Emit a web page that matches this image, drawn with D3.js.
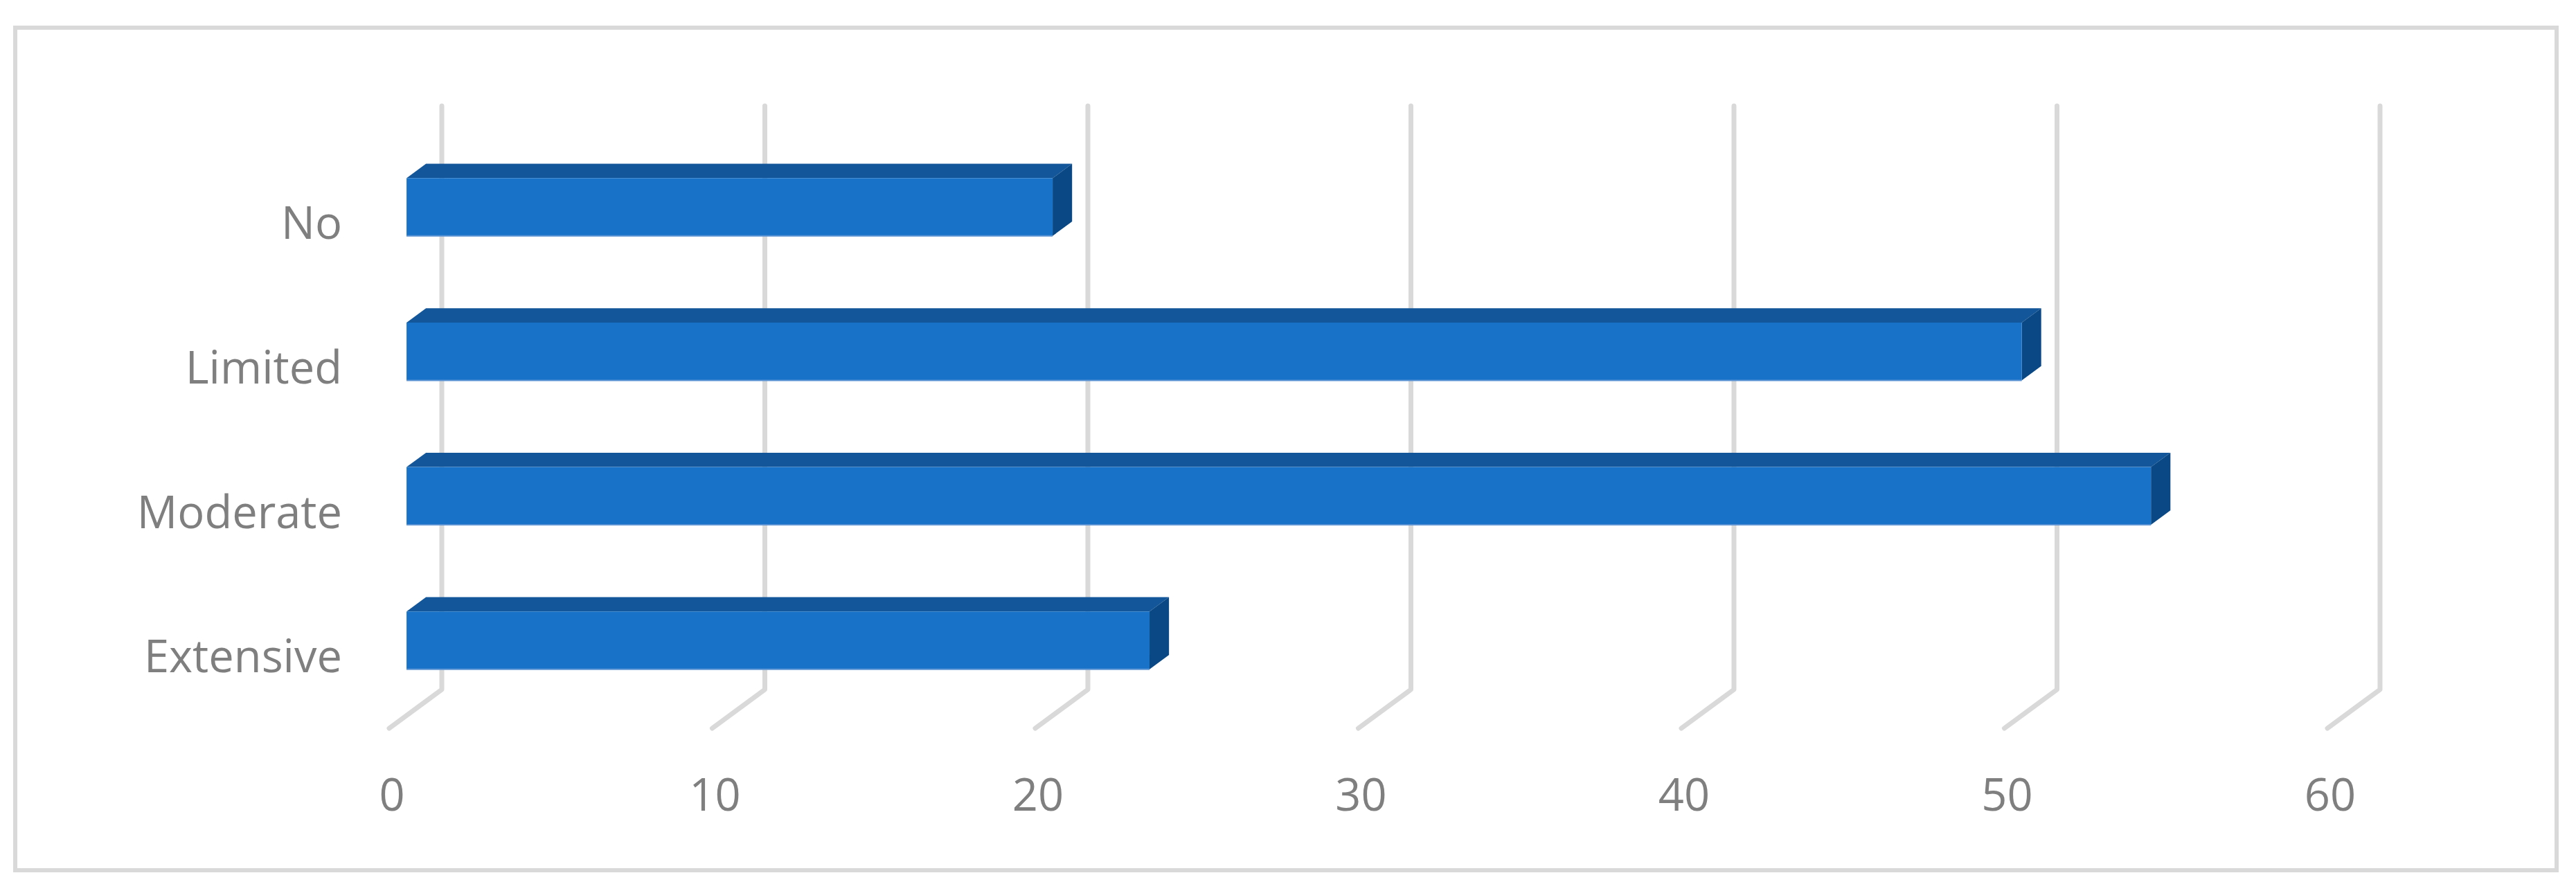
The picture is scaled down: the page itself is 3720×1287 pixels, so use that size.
<!DOCTYPE html>
<html>
<head>
<meta charset="utf-8">
<script src="https://cdn.jsdelivr.net/npm/d3@7"></script>
<style>
  html, body { margin: 0; padding: 0; background: #fff; }
  svg { display: block; }
</style>
</head>
<body>
<svg></svg>
<script>
// data
const categories = ['No', 'Limited', 'Moderate', 'Extensive'];
const values = [20, 50, 54, 23];
const ticks = [0, 10, 20, 30, 40, 50, 60];

const size = {w: 3720, h: 1287};
const svg = d3.select('svg')
    .attr('width', size.w)
    .attr('height', size.h);

// 3d look: offset of the back plane against the front plane
const depth = {dx: 76, dy: -56};
const barDepth = [0.33, 0.70];   // bar spans this part of the floor depth

// front plane scales
const x = d3.scaleLinear()
    .domain([0, 60])
    .range([562, 3361]);

const y = d3.scaleBand()
    .domain(categories)
    .range([209, 1052])
    .paddingInner(0.6)
    .paddingOuter(0.32);

// chart frame
svg.append('rect')
    .attr('x', 22)
    .attr('y', 40)
    .attr('width', 3670)
    .attr('height', 1217)
    .attr('fill', '#fff')
    .attr('stroke', '#d9d9d9')
    .attr('stroke-width', 6);

// gridlines: back wall line plus the floor diagonal
const wallTop = y.range()[0] + depth.dy,
    wallBottom = y.range()[1] + depth.dy;

svg.append('g')
    .selectAll('path')
    .data(ticks)
    .enter()
    .append('path')
    .attr('d', d => 'M' + (x(d) + depth.dx) + ',' + wallTop +
        'L' + (x(d) + depth.dx) + ',' + wallBottom +
        'L' + x(d) + ',' + y.range()[1])
    .attr('fill', 'none')
    .attr('stroke', '#d9d9d9')
    .attr('stroke-width', 7)
    .attr('stroke-linecap', 'round')
    .attr('stroke-linejoin', 'round');

// bars
const bars = svg.append('g')
    .selectAll('g')
    .data(categories.map((c, i) => ({cat: c, val: values[i]})))
    .enter()
    .append('g');

function corners (d) {
    let x0 = x(0) + depth.dx * barDepth[0],
        y0 = y(d.cat) + depth.dy * barDepth[0],
        w = x(d.val) - x(0),
        h = y.bandwidth(),
        ddx = depth.dx * (barDepth[1] - barDepth[0]),
        ddy = depth.dy * (barDepth[1] - barDepth[0]);
    return {x0, y0, w, h, ddx, ddy};
}

// top face
bars.append('polygon')
    .attr('points', d => {
        let c = corners(d);
        return [[c.x0, c.y0], [c.x0 + c.w, c.y0],
            [c.x0 + c.w + c.ddx, c.y0 + c.ddy], [c.x0 + c.ddx, c.y0 + c.ddy]].join(' ');
    })
    .attr('fill', '#135699');

// right side face
bars.append('polygon')
    .attr('points', d => {
        let c = corners(d);
        return [[c.x0 + c.w, c.y0], [c.x0 + c.w + c.ddx, c.y0 + c.ddy],
            [c.x0 + c.w + c.ddx, c.y0 + c.h + c.ddy], [c.x0 + c.w, c.y0 + c.h]].join(' ');
    })
    .attr('fill', '#094884');

// front face
bars.append('rect')
    .attr('x', d => corners(d).x0)
    .attr('y', d => corners(d).y0)
    .attr('width', d => corners(d).w)
    .attr('height', y.bandwidth())
    .attr('fill', '#1873c8');

// thin light edge under each bar
bars.append('line')
    .attr('x1', d => corners(d).x0)
    .attr('x2', d => corners(d).x0 + corners(d).w)
    .attr('y1', d => corners(d).y0 + y.bandwidth())
    .attr('y2', d => corners(d).y0 + y.bandwidth())
    .attr('stroke', '#5b93d3')
    .attr('stroke-width', 2);

// category labels
svg.append('g')
    .selectAll('text')
    .data(categories)
    .enter()
    .append('text')
    .attr('x', 494)
    .attr('y', d => y(d) + y.bandwidth() / 2 + 5)
    .attr('dy', '0.35em')
    .attr('text-anchor', 'end')
    .attr('font-family', '"Open Sans", sans-serif')
    .attr('font-size', 65)
    .attr('fill', '#7f7f7f')
    .text(d => d);

// value axis labels
svg.append('g')
    .selectAll('text')
    .data(ticks)
    .enter()
    .append('text')
    .attr('x', d => x(d) + 4)
    .attr('y', 1171)
    .attr('text-anchor', 'middle')
    .attr('font-family', '"Open Sans", sans-serif')
    .attr('font-size', 65)
    .attr('fill', '#7f7f7f')
    .text(d => d);
</script>
</body>
</html>
